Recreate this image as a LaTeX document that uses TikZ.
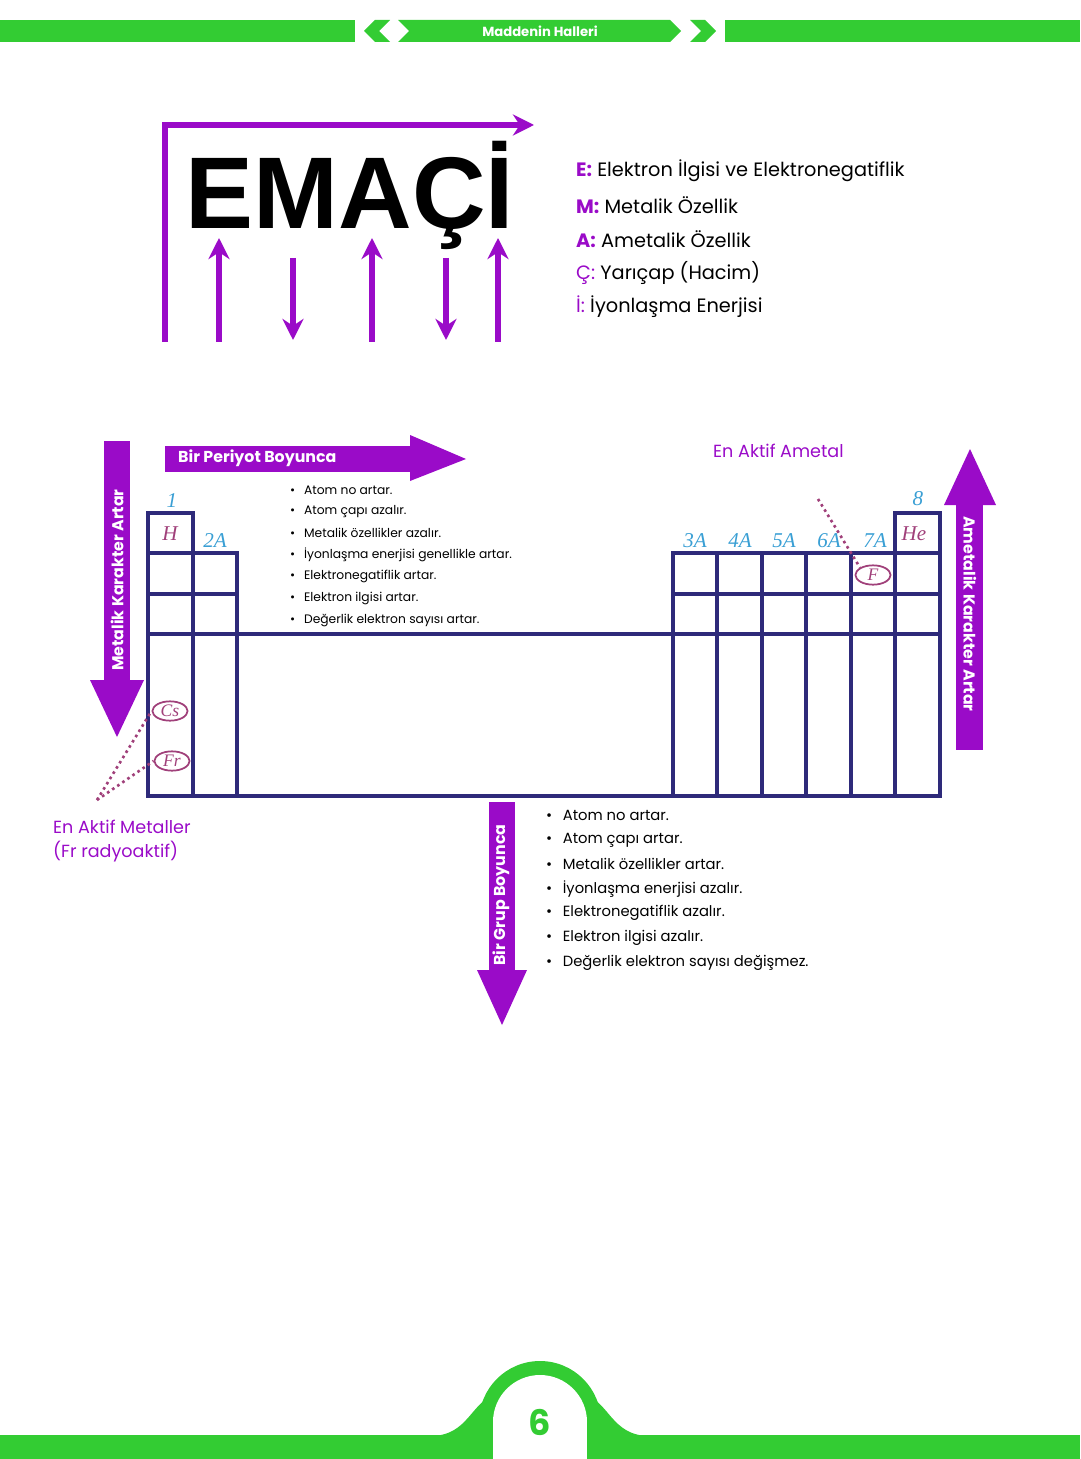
\documentclass[tikz,border=0pt]{standalone}
\usepackage{fontspec}
\setmainfont{Poppins}
\newfontfamily\hv{Liberation Sans}
\newfontfamily\sr{Liberation Serif}
\usetikzlibrary{arrows.meta,shapes.geometric}
\definecolor{pur}{HTML}{9A0BC8}
\definecolor{grn}{HTML}{33CC33}
\definecolor{tab}{HTML}{2E2A7A}
\definecolor{blu}{HTML}{3A9FD4}
\definecolor{pnk}{HTML}{A0407A}
\tikzset{
  ln/.style={pur,line width=3.5pt},
  ar/.style={ln,-{Stealth[length=12pt,width=12pt]}},
  cell/.style={tab,line width=1.8pt},
  grp/.style={blu,font=\sr\itshape\fontsize{12}{12}\selectfont},
  el/.style={pnk,font=\sr\itshape\fontsize{12}{12}\selectfont},
  ov/.style={pnk,draw,ellipse,inner sep=0pt,minimum width=20pt,minimum height=11pt,line width=1pt,font=\sr\itshape\fontsize{10}{10}\selectfont},
  leg/.style={anchor=west,font=\fontsize{11}{11}\selectfont},
  b1/.style={anchor=west,font=\fontsize{7}{8}\selectfont},
  b2/.style={anchor=west,font=\fontsize{8.4}{9}\selectfont},
  lab/.style={pur,anchor=west,font=\fontsize{10}{10}\selectfont},
  wt/.style={white,font=\bfseries\fontsize{9}{9}\selectfont},
  dot/.style={pnk,dotted,line width=1.5pt}
}
\begin{document}
\begin{tikzpicture}[x=0.02cm,y=-0.02cm]
\useasboundingbox (0,0) rectangle (1080,1459);
% header
\fill[grn] (0,20) rectangle (355,42);
\fill[grn] (375,20) -- (390,20) -- (379,31) -- (390,42) -- (375,42) -- (364,31) -- cycle;
\fill[grn] (398,20) -- (670,20) -- (681,31) -- (670,42) -- (398,42) -- (409,31) -- cycle;
\fill[grn] (690,20) -- (705,20) -- (716,31) -- (705,42) -- (690,42) -- (701,31) -- cycle;
\fill[grn] (725,20) rectangle (1080,42);
\node[white,font=\bfseries\fontsize{7.5}{8}\selectfont] (hd) at (540,31) {Maddenin Halleri};
% footer
\fill[grn] (0,1435) rectangle (1080,1459);
\fill[grn] (430,1436) .. controls (470,1436) and (470,1400) .. (500,1392) -- (580,1392) .. controls (610,1400) and (610,1436) .. (650,1436) -- cycle;
\fill[grn] (540,1422) circle[radius=61];
\fill[white] (540,1422) circle[radius=47];
\fill[white] (493,1422) rectangle (587,1459);
\node[grn,font=\bfseries\fontsize{20}{20}\selectfont] (pg) at (540,1422) {6};
% EMACI
\node[font=\hv\bfseries\fontsize{58}{58}\selectfont,anchor=base] (em) at (350,229) {EMAÇİ};
\coordinate (c0) at (165,342); \coordinate (c1) at (165,125); \coordinate (c2) at (534,125);
\draw[ar] (c0) -- (c1) -- (c2);
\foreach \x/\a/\b [count=\i] in {219/342/238, 293/258/340, 372/342/238, 446/258/340, 498/342/238}{
  \coordinate (s\i) at (\x,\a); \coordinate (t\i) at (\x,\b);
  \draw[ar] (s\i) -- (t\i);}
% legend
\node[leg] (l1) at (570,171) {\textcolor{pur}{\bfseries E:} Elektron İlgisi ve Elektronegatiflik};
\node[leg] (l2) at (570,205) {\textcolor{pur}{\bfseries M:} Metalik Özellik};
\node[leg] (l3) at (570,239) {\textcolor{pur}{\bfseries A:} Ametalik Özellik};
\node[leg] (l4) at (570,273) {\textcolor{pur}{Ç:} Yarıçap (Hacim)};
\node[leg] (l5) at (570,307) {\textcolor{pur}{İ:} İyonlaşma Enerjisi};
% big arrows
\fill[pur] (104,441) rectangle (130,680); \fill[pur] (90,680) -- (144,680) -- (117,737) -- cycle;
\node[wt,rotate=90] (mk) at (117,580) {Metalik Karakter Artar};
\fill[pur] (956,750) rectangle (983,505); \fill[pur] (944,505) -- (996,505) -- (970,449) -- cycle;
\node[wt,rotate=-90] (ak) at (970,614) {Ametalik Karakter Artar};
\fill[pur] (165,446) rectangle (410,472); \fill[pur] (410,435) -- (410,481) -- (466,459) -- cycle;
\node[wt,anchor=west] (bp) at (172,458) {Bir Periyot Boyunca};
\fill[pur] (489,802) rectangle (515,970); \fill[pur] (477,970) -- (527,970) -- (502,1025) -- cycle;
\node[wt,rotate=90] (bg) at (501,895) {Bir Grup Boyunca};
% table
\draw[cell] (148,513) rectangle (193,796);
\draw[cell] (193,553) rectangle (237,796);
\draw[cell] (148,553) -- (237,553) (148,594) -- (237,594);
\draw[cell] (148,634) -- (940,634) (148,796) -- (940,796);
\draw[cell] (895,513) rectangle (940,553);
\draw[cell] (673,553) rectangle (940,796);
\draw[cell] (673,594) -- (940,594);
\foreach \x in {717,762,806,851,895} \draw[cell] (\x,553) -- (\x,796);
\node[grp] (g1) at (172,501) {1};
\node[el] (eh) at (170,534) {H};
\node[grp] (g2) at (215,541) {2A};
\foreach \x/\t [count=\i] in {695/3A,740/4A,784/5A,829/6A,875/7A}\node[grp] (gg\i) at (\x,541) {\t};
\node[grp] (g8) at (918,499) {8};
\node[el] (ehe) at (914,534) {He};
\node[ov] (cs) at (170,711) {Cs};
\node[ov] (fr) at (172,761) {Fr};
\node[ov] (ff) at (873,575) {F};
\coordinate (m0) at (97,800); \coordinate (f0) at (818,499);
\draw[dot] (m0) -- (cs.west); \draw[dot] (m0) -- (fr.west); \draw[dot] (f0) -- (ff.north west);
\node[lab] (ea) at (707,451) {En Aktif Ametal};
\node[lab] (em1) at (47,827) {En Aktif Metaller};
\node[lab] (em2) at (47,852) {(Fr radyoaktif)};
% bullets
\foreach \t/\y [count=\i] in {Atom no artar./490, Atom çapı azalır./512, Metalik özellikler azalır./533, İyonlaşma enerjisi genellikle artar./555, Elektronegatiflik artar./576, Elektron ilgisi artar./598, Değerlik elektron sayısı artar./620}
  \node[b1] (p\i) at (284,\y) {\textbullet\hspace{5pt}\t};
\foreach \t/\y [count=\i] in {Atom no artar./815, Atom çapı artar./840, Metalik özellikler artar./864, İyonlaşma enerjisi azalır./889, Elektronegatiflik azalır./913, Elektron ilgisi azalır./938, Değerlik elektron sayısı değişmez./963}
  \node[b2] (q\i) at (540,\y) {\textbullet\hspace{6pt}\t};
\end{tikzpicture}
\end{document}
